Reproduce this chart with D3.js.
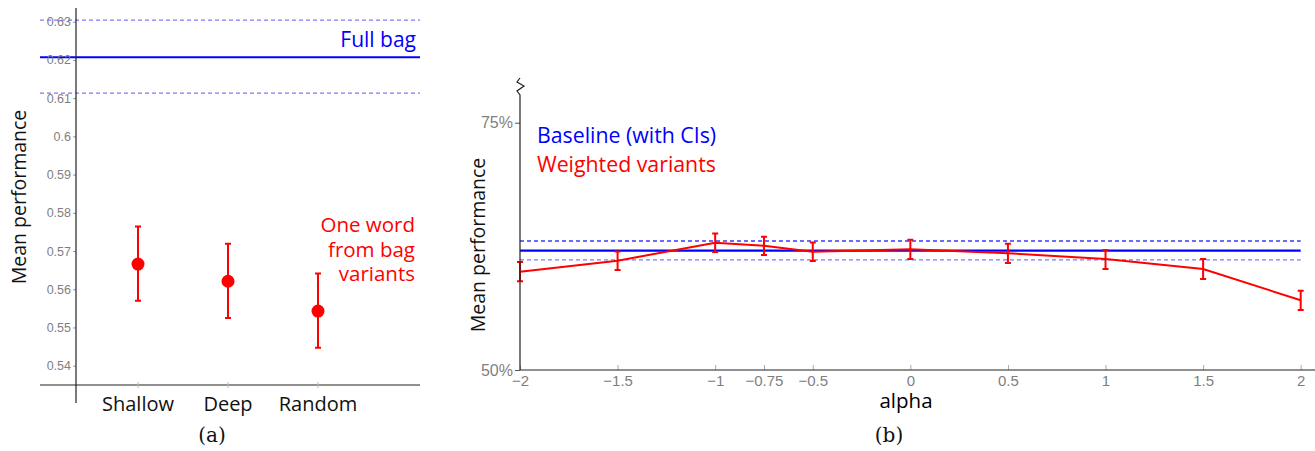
<!DOCTYPE html>
<html>
<head>
<meta charset="utf-8">
<script src="https://cdn.jsdelivr.net/npm/d3@7"></script>
<style>
  body { margin: 0; background: #fff; }
  svg { display: block; }
  .tick-lbl text { fill: #7f7f7f; font-family: "Liberation Sans", Arial, sans-serif; }
</style>
</head>
<body>
<div id="app"></div>
<script>
// panel (a): one word from bag variants
const categories = ['Shallow', 'Deep', 'Random']
const wordMean = [0.5666, 0.5621, 0.5543]
const wordLow = [0.5570, 0.5525, 0.5447]
const wordHigh = [0.5764, 0.5719, 0.5641]
const aTicks = [0.54, 0.55, 0.56, 0.57, 0.58, 0.59, 0.6, 0.61, 0.62, 0.63]
const fullBag = 0.6207
const fullBagLow = 0.6113
const fullBagHigh = 0.6304

// panel (b): weighted variants over alpha
const alphas = [-2, -1.5, -1, -0.75, -0.5, 0, 0.5, 1, 1.5, 2]
const weighted = [0.5994, 0.6105, 0.6287, 0.6257, 0.6196, 0.6220, 0.6180, 0.6122, 0.6021, 0.5705]
const weightedLow = [0.5898, 0.6012, 0.6194, 0.6162, 0.6102, 0.6121, 0.6082, 0.6021, 0.5920, 0.5606]
const weightedHigh = [0.6092, 0.6198, 0.6380, 0.6348, 0.6290, 0.6317, 0.6277, 0.6213, 0.6122, 0.5801]
const bTicks = [0.5, 0.75]

const W = 1315, H = 451
const SANS = '"Open Sans", sans-serif'
const RED = '#ff0000', BLUE = '#0000ff', LIGHT_BLUE = '#7b7bff'

const svg = d3.select('#app').append('svg')
    .attr('width', W).attr('height', H)

////////////////////////////////////////////////////////////////////////////////
// panel (a)
const ax = d3.scalePoint().domain(categories).range([138, 318])
const ay = d3.scaleLinear().domain([0.54, 0.63]).range([365.7, 21.7])
const a = svg.append('g')

// full bag baseline and its CI
const bagLines = [
    { v: fullBagHigh, dash: '4,3', c: LIGHT_BLUE, w: 1.3 },
    { v: fullBag, dash: null, c: BLUE, w: 2 },
    { v: fullBagLow, dash: '4,3', c: LIGHT_BLUE, w: 1.3 },
]
a.selectAll('line.bag').data(bagLines).join('line').attr('class', 'bag')
    .attr('x1', 40).attr('x2', 420)
    .attr('y1', d => ay(d.v)).attr('y2', d => ay(d.v))
    .attr('stroke', d => d.c).attr('stroke-width', d => d.w)
    .attr('stroke-dasharray', d => d.dash)

// y axis
const aYAxis = a.append('g').attr('class', 'tick-lbl')
    .attr('transform', 'translate(76,0)')
    .call(d3.axisLeft(ay).tickValues(aTicks).tickSize(3).tickPadding(2).tickFormat(d3.format('')))
aYAxis.select('.domain').remove()
aYAxis.selectAll('.tick line').attr('stroke', '#999')
aYAxis.selectAll('text').attr('font-size', 12.5)
a.append('line').attr('x1', 76).attr('x2', 76).attr('y1', 8).attr('y2', 403)
    .attr('stroke', '#222').attr('stroke-width', 1.2)

// x axis
a.append('line').attr('x1', 40).attr('x2', 420).attr('y1', 385).attr('y2', 385)
    .attr('stroke', '#222').attr('stroke-width', 1.2)
a.selectAll('line.xt').data(categories).join('line').attr('class', 'xt')
    .attr('x1', d => ax(d)).attr('x2', d => ax(d)).attr('y1', 382).attr('y2', 388)
    .attr('stroke', '#bbb')
a.selectAll('text.cat').data(categories).join('text').attr('class', 'cat')
    .attr('x', d => ax(d)).attr('y', 411)
    .attr('text-anchor', 'middle').attr('font-family', SANS).attr('font-size', 20)
    .attr('fill', '#111').text(d => d)

// error bars + points
const aPts = categories.map((c, i) => ({ c, m: wordMean[i], lo: wordLow[i], hi: wordHigh[i] }))
a.selectAll('line.err').data(aPts).join('line').attr('class', 'err')
    .attr('x1', d => ax(d.c)).attr('x2', d => ax(d.c))
    .attr('y1', d => ay(d.lo)).attr('y2', d => ay(d.hi))
    .attr('stroke', RED).attr('stroke-width', 2)
a.selectAll('path.cap').data(aPts).join('path').attr('class', 'cap')
    .attr('d', d => `M${ax(d.c) - 3},${ay(d.lo)}h6M${ax(d.c) - 3},${ay(d.hi)}h6`)
    .attr('stroke', RED).attr('stroke-width', 2)
a.selectAll('circle').data(aPts).join('circle')
    .attr('cx', d => ax(d.c)).attr('cy', d => ay(d.m)).attr('r', 6.5)
    .attr('fill', RED)

// labels
a.append('text').attr('x', 416).attr('y', 47).attr('text-anchor', 'end')
    .attr('font-family', SANS).attr('font-size', 21).attr('fill', BLUE).text('Full bag')
// three-line note, one text per line
a.selectAll('text.note').data(['One word', 'from bag', 'variants']).join('text').attr('class', 'note')
    .attr('x', 415).attr('y', (d, i) => 232 + i * 24.6)
    .attr('text-anchor', 'end').attr('font-family', SANS)
    .attr('font-size', 20.5).attr('fill', RED).text(d => d)
a.append('text').attr('transform', 'translate(26,197) rotate(-90)')
    .attr('text-anchor', 'middle').attr('font-family', SANS).attr('font-size', 19.5)
    .attr('fill', '#111').text('Mean performance')

////////////////////////////////////////////////////////////////////////////////
// panel (b)
const bx = d3.scaleLinear().domain([-2, 2]).range([520, 1300.7])
const by = d3.scaleLinear().domain([0.5, 0.75]).range([370, 122.7])
const b = svg.append('g')

// baseline with CIs
const baseLines = [
    { v: fullBagHigh, dash: '4,3', c: '#3a3aff', w: 1.3 },
    { v: fullBag, dash: null, c: BLUE, w: 2.2 },
    { v: fullBagLow, dash: '4,3', c: LIGHT_BLUE, w: 1.3 },
]
b.selectAll('line.base').data(baseLines).join('line').attr('class', 'base')
    .attr('x1', bx(-2)).attr('x2', bx(2))
    .attr('y1', d => by(d.v)).attr('y2', d => by(d.v))
    .attr('stroke', d => d.c).attr('stroke-width', d => d.w)
    .attr('stroke-dasharray', d => d.dash)

// weighted variants
const bPts = alphas.map((x, i) => ({ x, m: weighted[i], lo: weightedLow[i], hi: weightedHigh[i] }))
b.append('path').datum(bPts)
    .attr('d', d3.line().x(d => bx(d.x)).y(d => by(d.m)))
    .attr('fill', 'none').attr('stroke', RED).attr('stroke-width', 2)
b.selectAll('path.err').data(bPts).join('path').attr('class', 'err')
    .attr('d', d => `M${bx(d.x)},${by(d.lo)}V${by(d.hi)}M${bx(d.x) - 3},${by(d.lo)}h6M${bx(d.x) - 3},${by(d.hi)}h6`)
    .attr('fill', 'none').attr('stroke', RED).attr('stroke-width', 2)

// axes
const bXAxis = b.append('g').attr('class', 'tick-lbl')
    .attr('transform', 'translate(0,370)')
    .call(d3.axisBottom(bx).tickValues(alphas).tickSize(-5).tickPadding(5).tickFormat(d3.format('')))
bXAxis.select('.domain').remove()
bXAxis.selectAll('.tick line').attr('stroke', '#aaa')
bXAxis.selectAll('text').attr('font-size', 15)
b.append('line').attr('x1', 520).attr('x2', W).attr('y1', 370).attr('y2', 370)
    .attr('stroke', '#222').attr('stroke-width', 1.2)

const bYAxis = b.append('g').attr('class', 'tick-lbl')
    .attr('transform', 'translate(520,0)')
    .call(d3.axisLeft(by).tickValues(bTicks).tickSize(5).tickPadding(2).tickFormat(d3.format('.0%')))
bYAxis.select('.domain').remove()
bYAxis.selectAll('.tick line').attr('stroke', '#555')
bYAxis.selectAll('text').attr('font-size', 16)
// axis with break mark at the top
b.append('path')
    .attr('d', 'M520,370V95l-3,-4l7,-5l-7,-4l3,-4')
    .attr('fill', 'none').attr('stroke', '#222').attr('stroke-width', 1.2)

b.append('text').attr('x', 906).attr('y', 408).attr('text-anchor', 'middle')
    .attr('font-family', SANS).attr('font-size', 20.5)
    .attr('fill', '#000').text('alpha')
b.append('text').attr('transform', 'translate(485,245) rotate(-90)')
    .attr('text-anchor', 'middle').attr('font-family', SANS).attr('font-size', 19.5)
    .attr('fill', '#111').text('Mean performance')
b.append('text').attr('x', 537).attr('y', 143).attr('font-family', SANS)
    .attr('font-size', 21.3).attr('fill', BLUE).text('Baseline (with CIs)')
b.append('text').attr('x', 537).attr('y', 171.7).attr('font-family', SANS)
    .attr('font-size', 21.3).attr('fill', RED).text('Weighted variants')

// captions
svg.selectAll('text.cap').data([['(a)', 212], ['(b)', 889]]).join('text').attr('class', 'cap')
    .attr('x', d => d[1]).attr('y', 442).attr('text-anchor', 'middle')
    .attr('font-family', '"DejaVu Serif", "Liberation Serif", serif').attr('font-size', 20)
    .attr('fill', '#111').text(d => d[0])
</script>
</body>
</html>
